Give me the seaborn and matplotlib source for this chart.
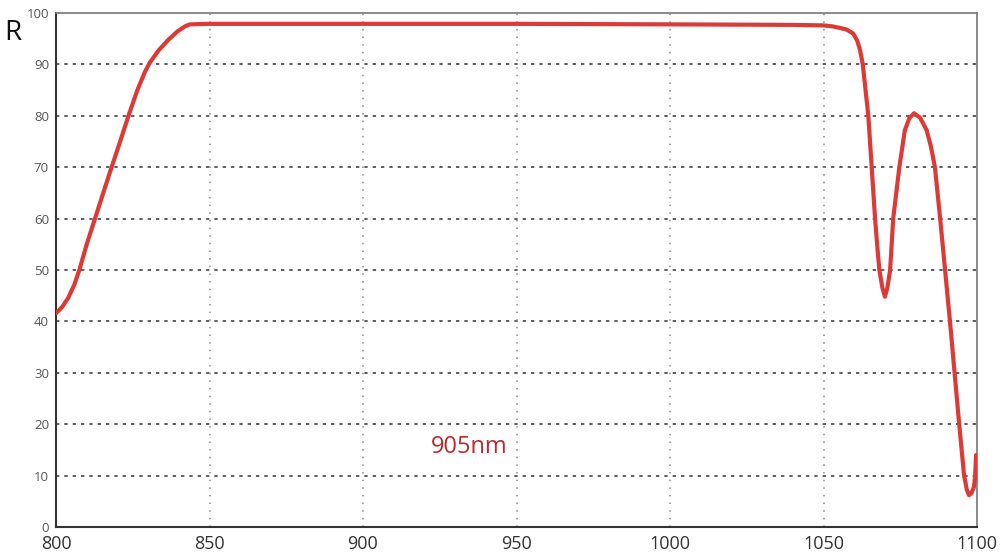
import numpy as np
import pandas as pd
import seaborn as sns
import matplotlib.pyplot as plt

# -------------------------------
# Data
# -------------------------------
wavelength = [800, 802, 804, 806, 807.6, 810, 812.7, 815.5, 818.1, 821, 823.6,
              826.5, 829, 830.6, 833.5, 836.6, 839.5, 842, 843.6, 850, 900, 950,
              1000, 1040, 1050, 1053, 1055.4, 1057.5, 1059.7, 1061, 1061.9,
              1062.8, 1064.6, 1065.7, 1066.8, 1067.6, 1068.2, 1069.2, 1070.0,
              1070.8, 1071.7, 1072.7, 1074.7, 1076.5, 1078, 1079.5, 1081.5,
              1083.6, 1085, 1086.3, 1088, 1089.6, 1091.2, 1092.7,
              1094.2, 1095.8, 1096.7, 1097.4, 1098.2, 1099.0, 1099.4, 1099.7]
reflectance = [41.6, 42.8, 44.6, 47.2, 50.0, 55.0, 60.0, 65.2, 70.0, 75.2, 80.0,
               85.0, 88.6, 90.4, 92.8, 94.8, 96.4, 97.4, 97.8, 97.9, 97.9, 97.9,
               97.8, 97.7, 97.6, 97.4, 97.1, 96.8, 96.0, 94.6, 92.8,
               90.0, 80.0, 70.0, 60.0, 54.0, 50.0, 46.5, 44.8,
               46.5, 50.0, 60.0, 70.0, 77.2, 79.6, 80.5, 79.6,
               77.2, 74.0, 70.0, 60.0, 50.0, 40.0, 30.0,
               20.0, 10.0, 7.2, 6.2, 6.6, 7.8, 10.0, 14.0]

x_ticks = [800, 850, 900, 950, 1000, 1050, 1100]
y_ticks = [0, 10, 20, 30, 40, 50, 60, 70, 80, 90, 100]

df = pd.DataFrame({"wavelength": wavelength, "R": reflectance})

# -------------------------------
# Plot
# -------------------------------
sns.set_style("white")
plt.rcParams["font.family"] = ["Open Sans", "DejaVu Sans"]

fig = plt.figure(figsize=(10, 5.58), dpi=100)
ax = fig.add_axes([0.056, 0.0556, 0.921, 0.921])

# grid lines
for yv in y_ticks[1:-1]:
    ax.axhline(yv, color="#444444", lw=1.2, ls=(0, (2, 3)), zorder=1)
for xv in x_ticks[1:-1]:
    ax.axvline(xv, color="#8a8a8a", lw=1.1, ls=(0, (1, 4)), zorder=1)

sns.lineplot(data=df, x="wavelength", y="R", ax=ax, color="#dc3a36",
             lw=3.0, sort=False, zorder=3)

ax.set_xlim(800, 1100)
ax.set_ylim(0, 100)
ax.set_xticks(x_ticks)
ax.set_yticks(y_ticks)
ax.set_xlabel("")
ax.set_ylabel("")
ax.tick_params(axis="x", length=0, pad=6, labelsize=13, labelcolor="#333333")
ax.tick_params(axis="y", length=0, pad=5, labelsize=9.5, labelcolor="#555555")

for side in ["left", "bottom"]:
    ax.spines[side].set_color("#333333")
    ax.spines[side].set_linewidth(1.5)
for side in ["top", "right"]:
    ax.spines[side].set_color("#777777")
    ax.spines[side].set_linewidth(1.2)

ax.text(934.5, 15.6, "905nm", color="#c0272d", fontsize=17,
        ha="center", va="center", zorder=4)
fig.text(0.004, 0.94, "R", fontsize=20, color="#111111", ha="left", va="center")

plt.savefig("out.png", dpi=100)
plt.close()
